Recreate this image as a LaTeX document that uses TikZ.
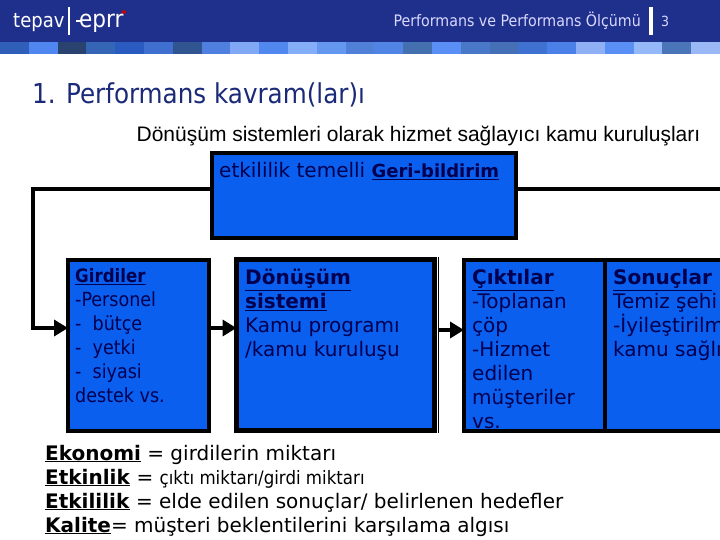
\documentclass[tikz,border=0pt]{standalone}
\usepackage{fontspec}
\usetikzlibrary{arrows.meta}
\setmainfont{DejaVu Sans}
\newfontfamily\liberation{Liberation Sans}
\newfontfamily\condensed{DejaVu Sans Condensed}
\definecolor{headerblue}{HTML}{1F2F8C}
\definecolor{boxblue}{HTML}{0A5FEF}
\definecolor{boxtext}{HTML}{00004F}
\definecolor{titleblue}{HTML}{1A2A78}
\newcommand{\head}[1]{\underline{\textbf{#1}}}
\tikzset{
  stagebox/.style={draw=black, fill=boxblue, line width=4pt, inner sep=0pt, outer sep=0pt, anchor=north west},
  boxlabel/.style={anchor=north west, inner sep=0pt, align=left, text=boxtext, font=\fontsize{20}{24}\selectfont},
  defline/.style={anchor=base west, inner sep=0pt, text=black, font=\fontsize{20}{24}\selectfont},
  flow/.style={line width=4pt, -{Triangle[length=14pt, width=16pt]}}
}
\begin{document}
\begin{tikzpicture}[x=1pt, y=-1pt]
    \useasboundingbox (0,0) rectangle (720,540);
    \clip (0,0) rectangle (720,540);

    % Header
    \fill[headerblue] (0,0) rectangle (720,42);
    \foreach \n/\c in {0/2F5FB8, 1/4F86F0, 2/2A4270, 3/3565B5, 4/2A5BC0, 5/3F70D0, 6/305590, 7/4F80E0, 8/80A8F5, 9/5088F0, 10/85AEF8, 11/6498F0, 12/5080D8, 13/5085E5, 14/4570B0, 15/5A90F5, 16/4A78C8, 17/4570B8, 18/3F72D0, 19/4A80E8, 20/8FB0F5, 21/5A90F5, 22/95B8F8, 23/4A75B8, 24/9AB8F5} {
        \definecolor{tile}{HTML}{\c}
        \fill[tile] (28.8*\n,42) rectangle (28.8*\n+28.8,54);
    }
    \node[anchor=base west, inner sep=0pt, text=white, font=\condensed\fontsize{20}{20}\selectfont] (Tepav) at (13,28) {tepav};
    \node[anchor=base west, inner sep=0pt, text=white, font=\condensed\fontsize{24}{24}\selectfont] (Eprr) at (79,28) {eprr};
    \draw[white, line width=1.5pt] (69,7) -- (69,35);
    \draw[white, line width=1.2pt] (76,21) -- (81,21);
    \fill[red!80!black] (124,12) circle (2pt);
    \node[anchor=base east, inner sep=0pt, text=white!85!blue, font=\condensed\fontsize{15.8}{16}\selectfont] (Section) at (641,27) {Performans ve Performans Ölçümü};
    \draw[white, line width=4pt] (651,7) -- (651,35);
    \node[anchor=base west, inner sep=0pt, text=white!85!blue, font=\condensed\fontsize{14}{14}\selectfont] (Page) at (661,27) {3};

    % Titles
    \node[anchor=base west, inner sep=0pt, text=titleblue, font=\condensed\fontsize{27.4}{28}\selectfont] (Title) at (32,104) {1. Performans kavram(lar)ı};
    \node[anchor=base, inner sep=0pt, text=black, font=\liberation\fontsize{21}{24}\selectfont] (Subtitle) at (418.5,142) {Dönüşüm sistemleri olarak hizmet sağlayıcı kamu kuruluşları};

    % Boxes
    \node[stagebox, minimum width=303.5pt, minimum height=84.5pt] (Feedback) at (212,153) {};
    \node[stagebox, minimum width=141pt, minimum height=171pt] (Inputs) at (68,259.5) {};
    \node[stagebox, line width=5.5pt, minimum width=198pt, minimum height=171pt] (Process) at (236.5,259.5) {};
    \node[stagebox, minimum width=141pt, minimum height=171pt] (Outputs) at (464,259.5) {};
    \node[stagebox, minimum width=141pt, minimum height=171pt] (Results) at (605,259.5) {};
    \draw[black, line width=0.8pt] (Process.north east) ++(3.5,-2.5) -- ++(0,176);

    % Connectors
    \coordinate (FeedbackOut) at (725,189);
    \coordinate (LoopTop) at (33,189);
    \coordinate (LoopBottom) at (33,328);
    \draw[line width=4pt] (Feedback.east |- FeedbackOut) -- (FeedbackOut);
    \draw[flow] (Feedback.west |- LoopTop) -- (LoopTop) -- (LoopBottom) -- (Inputs.west |- LoopBottom);
    \draw[flow] (Inputs.east |- LoopBottom) -- (Process.west |- LoopBottom);
    \coordinate (OutLevel) at (438,330);
    \draw[flow] (OutLevel) -- (Outputs.west |- OutLevel);

    % Box texts
    \node[anchor=base west, inner sep=0pt, text=boxtext, font=\fontsize{20}{24}\selectfont] (FeedbackText) at (219,177.5) {etkililik temelli \fontsize{18}{24}\selectfont\head{Geri-bildirim}};
    \node[boxlabel, font=\condensed\fontsize{19.5}{24}\selectfont] (InputsText) at (75,268) {{\fontsize{18.5}{24}\selectfont\head{Girdiler}}\\-Personel\\-~ bütçe\\-~ yetki\\-~ siyasi\\destek vs.};
    \node[boxlabel] (ProcessText) at (245,269) {\head{Dönüşüm}\\\head{sistemi}\\Kamu programı\\/kamu kuruluşu};
    \node[boxlabel] (OutputsText) at (472,269) {\head{Çıktılar}\\-Toplanan\\çöp\\-Hizmet\\edilen\\müşteriler\\vs.};
    \node[boxlabel] (ResultsText) at (613,269) {\head{Sonuçlar}\\Temiz şehi\\-İyileştirilm\\kamu sağlı};

    % Definitions
    \node[defline] (Economy) at (45,460) {\head{Ekonomi} = girdilerin miktarı};
    \node[defline] (Efficiency) at (45,484) {\head{Etkinlik} = {\condensed\fontsize{18.5}{24}\selectfont çıktı miktarı/girdi miktarı}};
    \node[defline] (Effectiveness) at (45,508) {\head{Etkililik} = elde edilen sonuçlar/ belirlenen hedefler};
    \node[defline] (Quality) at (45,532) {\head{Kalite}= müşteri beklentilerini karşılama algısı};
\end{tikzpicture}
\end{document}
